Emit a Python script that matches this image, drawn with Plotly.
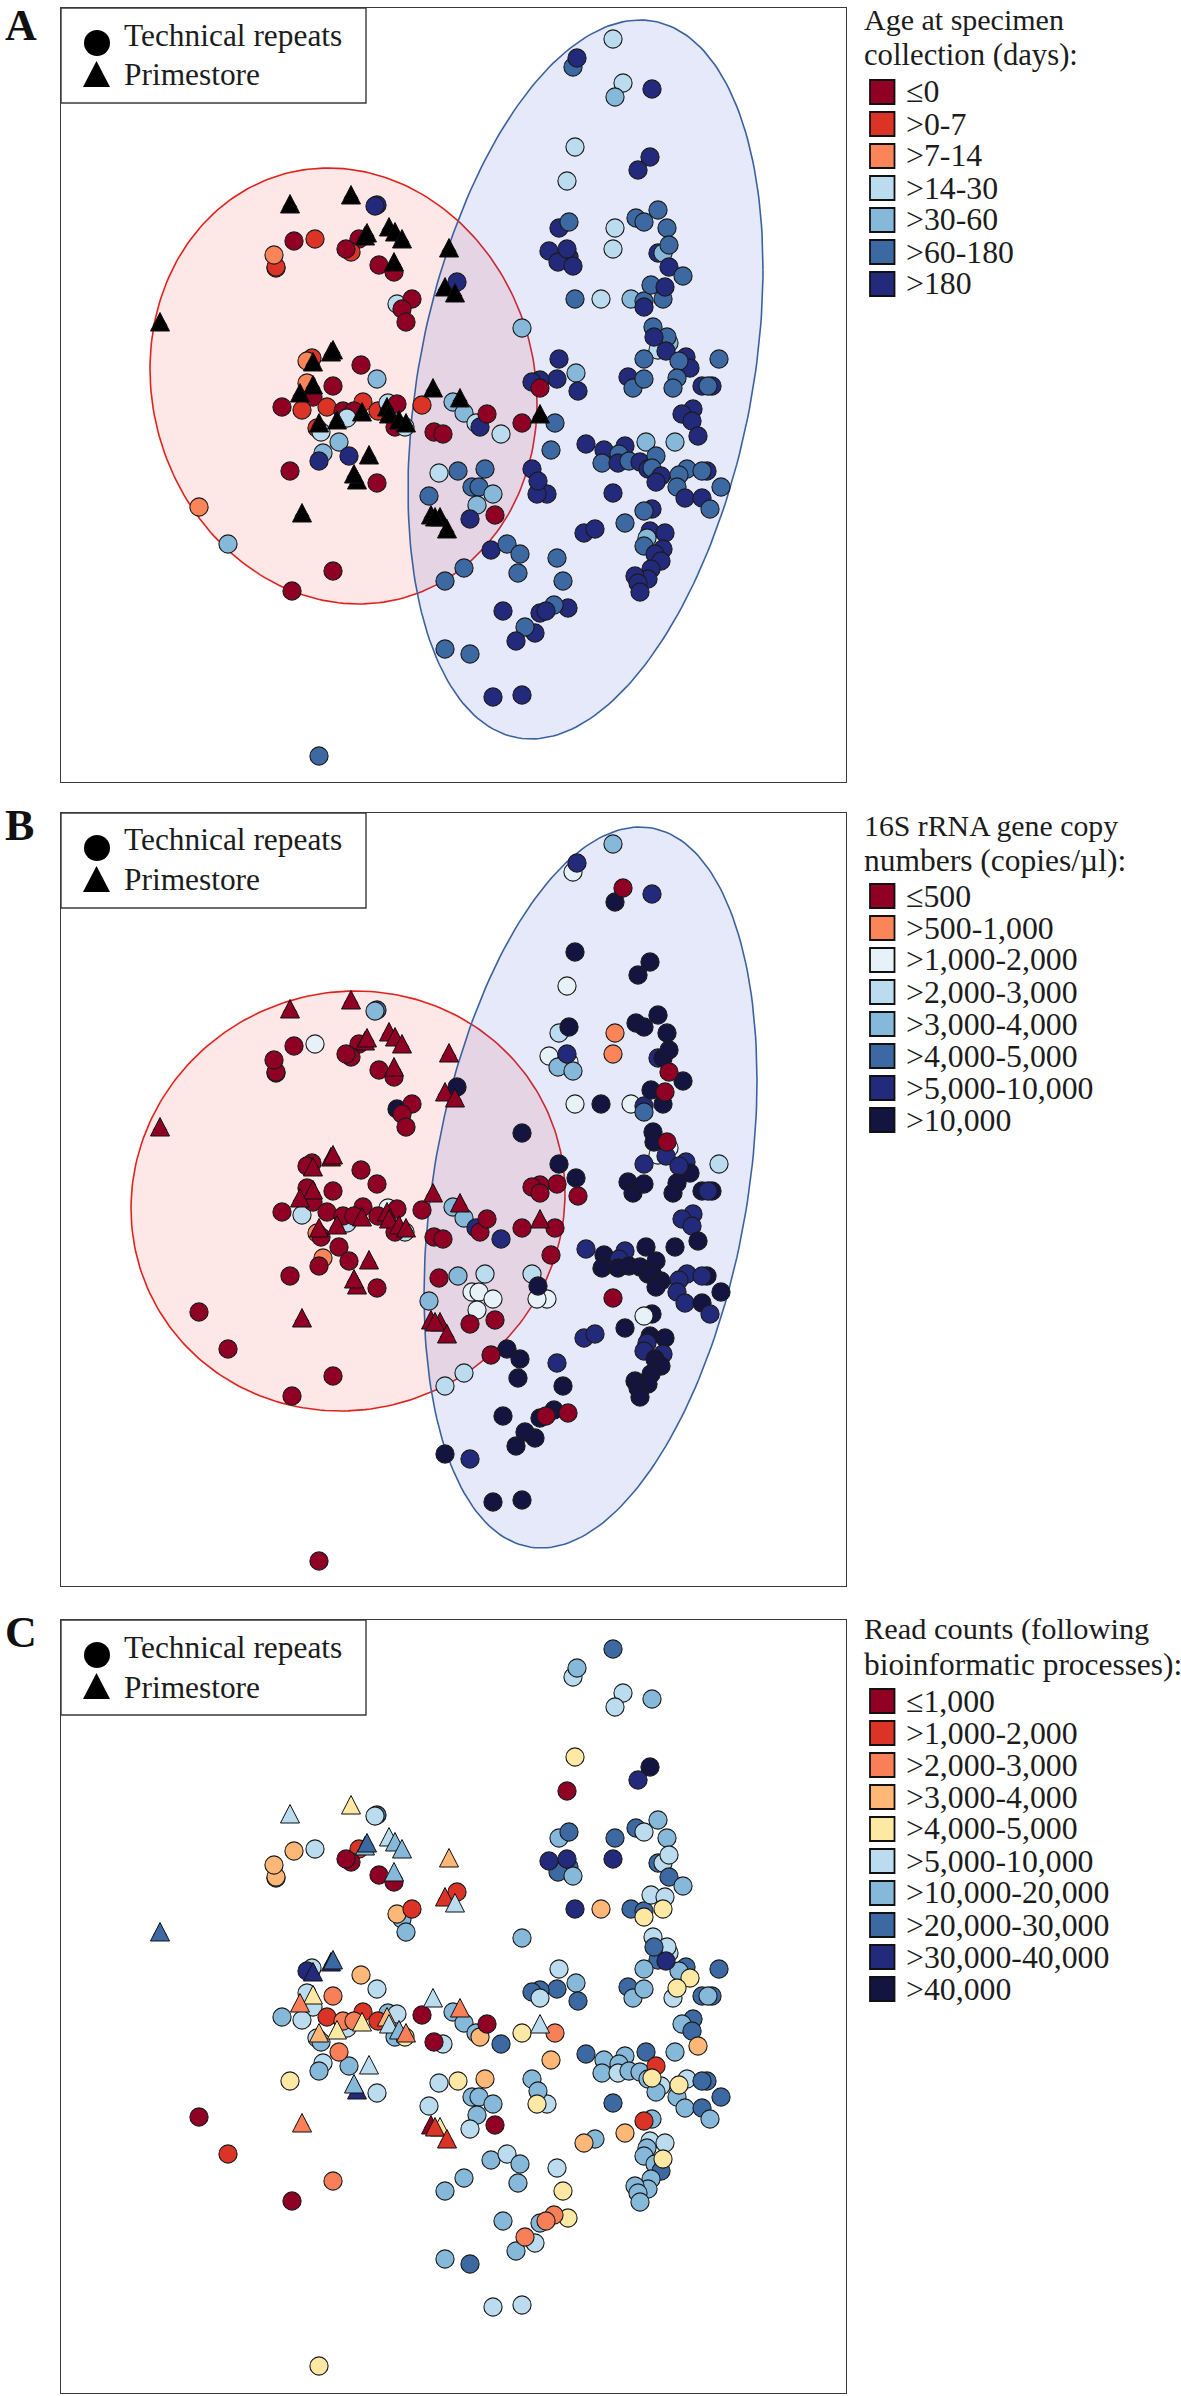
import numpy as np
import plotly.graph_objects as go

W, H = 1181, 2396
FONT = "Liberation Serif"
INK = "#1c1c1c"

# ---- colour classes and legends ------------------------------------------
age_title = ["Age at specimen", "collection (days):"]
age_title_sizes = [30, 30.7]
age_labels = ["≤0", ">0-7", ">7-14", ">14-30", ">30-60", ">60-180", ">180"]
age_colors = ["#8F0024", "#DC3327", "#FC8459", "#BBDCEE", "#86B8D9", "#3D69A3", "#242A7B"]

copy_title = ["16S rRNA gene copy", "numbers (copies/µl):"]
copy_title_sizes = [29.8, 31.5]
copy_labels = ["≤500", ">500-1,000", ">1,000-2,000", ">2,000-3,000", ">3,000-4,000",
               ">4,000-5,000", ">5,000-10,000", ">10,000"]
copy_colors = ["#8F0024", "#FC8459", "#E7F2F8", "#BBDCEE", "#86B8D9", "#3D69A3", "#242A7B", "#13143F"]

read_title = ["Read counts (following", "bioinformatic processes):"]
read_title_sizes = [30.4, 31.4]
read_labels = ["≤1,000", ">1,000-2,000", ">2,000-3,000", ">3,000-4,000", ">4,000-5,000",
               ">5,000-10,000", ">10,000-20,000", ">20,000-30,000", ">30,000-40,000", ">40,000"]
read_colors = ["#8F0024", "#DC3327", "#F87F58", "#FDB877", "#FEE9A4", "#BBDCEE", "#86B8D9",
               "#3D69A3", "#242A7B", "#13143F"]

type_labels = ["Technical repeats", "Primestore"]
panel_letters = ["A", "B", "C"]

# ---- ordination samples (same positions in all panels) -------------------
circle_x = [377,375,294,315,276,276,274,359,351,346,379,394,397,412,402,406,457,312,307,361,
            377,307,333,313,282,302,327,343,363,354,378,388,397,395,405,422,317,321,347,339,
            323,319,349,290,377,199,228,333,292,319,434,443,453,464,476,480,487,501,522,555,
            551,439,458,485,472,479,493,477,470,495,429,464,445,491,507,520,518,503,535,525,
            516,445,470,493,522,559,576,557,540,532,540,578,613,573,577,623,615,652,575,567,
            650,638,658,636,644,667,658,663,669,669,683,615,613,559,569,549,569,558,573,567,
            575,601,631,644,644,663,651,665,653,669,667,658,654,666,644,686,690,679,719,628,
            633,644,677,673,702,712,708,693,682,692,698,586,604,625,619,602,618,629,646,675,
            640,656,648,652,661,656,687,679,677,707,702,721,685,702,710,613,547,537,532,538,
            652,644,625,584,595,557,563,568,554,540,546,650,665,647,644,663,655,661,651,648,
            635,638,640,522]
circle_y = [205,206,241,239,268,267,255,239,252,249,265,272,304,299,309,322,282,358,361,365,
            379,383,386,397,407,410,407,411,402,411,411,403,404,427,427,405,428,432,418,442,
            453,461,456,471,483,507,544,571,591,756,432,434,402,413,423,427,414,434,423,423,
            450,473,471,469,487,487,494,505,519,515,496,568,581,550,544,554,573,611,633,627,
            641,649,654,697,695,359,373,379,380,382,388,391,39,67,58,83,97,89,147,181,
            157,170,210,218,222,228,253,253,245,267,276,228,249,228,222,251,257,262,266,249,
            299,299,299,301,307,299,285,287,327,343,337,350,337,351,359,357,368,361,359,377,
            388,379,378,388,386,386,386,409,414,421,436,444,450,446,454,463,463,461,442,442,
            462,456,469,468,476,482,469,475,487,471,471,487,498,498,509,493,494,494,469,481,
            509,511,523,533,529,558,581,608,605,613,611,531,533,538,546,549,554,561,569,579,
            576,583,592,328]
circle_age = [6,6,0,1,1,1,2,0,1,0,0,0,3,0,0,0,6,1,2,0,
              4,2,0,0,0,1,1,0,1,0,1,3,0,0,3,1,1,3,3,4,
              4,6,6,0,0,2,4,0,0,5,0,0,4,4,3,6,0,3,0,5,
              5,3,5,5,5,5,4,4,6,0,5,5,5,6,5,5,5,6,6,5,
              6,5,5,6,6,6,4,6,6,6,0,6,3,5,6,3,4,6,3,3,
              6,6,5,5,5,5,6,4,5,6,5,3,3,6,5,6,6,6,6,6,
              5,3,4,5,6,5,5,6,5,4,5,3,6,6,5,6,6,5,5,6,
              5,5,5,5,6,6,5,6,6,6,6,6,6,6,5,5,6,5,4,4,
              6,5,6,5,6,6,5,5,5,6,5,5,6,6,5,6,6,6,6,6,
              6,5,5,6,6,5,5,6,5,6,6,6,6,4,5,6,6,6,6,6,
              6,6,6,4]
circle_copies = [5,4,0,2,0,0,0,0,0,0,0,0,7,0,0,0,7,0,0,0,
                 0,0,0,0,0,3,0,0,0,0,0,2,0,0,3,0,1,0,3,0,
                 1,0,0,0,0,0,0,0,0,0,0,0,4,4,6,0,0,6,0,0,
                 0,0,4,3,2,2,2,2,0,0,4,3,3,0,7,7,7,7,7,7,
                 7,7,6,7,7,7,7,0,0,0,0,0,4,2,6,0,7,6,7,2,
                 7,7,7,7,7,7,6,7,7,0,7,1,1,3,7,2,2,4,4,6,
                 2,7,2,6,5,7,7,0,7,2,0,2,7,6,6,6,7,6,3,7,
                 7,7,7,7,7,7,6,6,6,6,7,6,7,6,6,7,7,7,7,7,
                 7,7,7,7,7,7,6,6,6,7,6,7,6,7,6,0,2,2,3,7,
                 7,2,7,6,6,6,7,0,7,7,0,7,7,6,6,6,7,7,7,7,
                 7,7,7,7]
circle_reads = [7,5,3,5,7,3,3,1,0,0,0,0,3,1,6,6,1,5,8,3,
                5,5,2,5,6,5,1,2,1,2,1,6,5,6,4,0,5,6,5,2,
                5,6,6,4,5,0,1,2,0,4,0,5,6,6,6,3,0,7,4,2,
                3,5,4,3,6,6,6,6,5,0,5,6,6,6,5,6,6,6,5,2,
                6,6,7,5,5,5,6,7,7,7,5,7,7,5,6,5,5,6,4,0,
                9,8,6,7,5,6,7,5,5,7,6,7,8,6,7,8,7,7,6,8,
                8,3,7,7,4,4,5,5,5,5,5,7,7,8,6,7,4,6,7,7,
                6,6,4,5,7,7,6,7,6,7,3,7,6,6,6,6,5,6,7,6,
                6,1,6,4,5,6,5,4,6,7,7,7,6,7,6,7,5,4,6,6,
                6,1,3,3,6,5,4,4,2,6,2,5,5,6,6,4,6,7,6,6,
                6,6,6,6]

tri_x = [290,351,365,367,389,395,402,394,449,445,455,160,331,333,313,313,300,362,387,389,
         399,406,319,337,369,357,354,302,460,433,540,431,440,435,447]
tri_y = [204,195,236,233,227,232,239,262,248,287,293,322,352,350,362,385,393,412,407,414,
         420,423,423,420,455,480,474,513,398,388,414,515,517,517,529]
tri_copies = [0]*len(tri_x)
tri_reads = [5,4,6,7,5,6,6,6,3,1,5,7,8,7,8,4,2,4,3,5,
             6,2,3,4,5,8,6,2,2,5,5,0,4,1,1]

# ---- 95 % ellipses: centre x, centre y, half-width, half-height, tilt correlation
ell_A_red = (343.5, 386, 193.5, 218, -0.078)
ell_A_blue = (585.5, 379.5, 177.5, 359.5, 0.307)
ell_B_red = (348, 396, 217, 210, 0.035)
ell_B_blue = (590.5, 382.5, 166.5, 360.5, 0.297)

# ---- page layout in pixels ------------------------------------------------
FRAME_L, FRAME_R = 61, 846
frames = [(8, 782, 0), (813, 1586, 805), (1620, 2393, 1610)]

def px(x): return x / W
def py(y): return 1 - y / H

def ellipse(p):
    cx, cy, a, b, rho = p
    d = np.arccos(rho)
    t = np.linspace(0, 2 * np.pi, 241)
    return cx + a * np.cos(t), cy - b * np.cos(t - d)

fig = go.Figure()
shapes, annotations = [], []

def text(x, y, s, size=30, **kw):
    annotations.append(dict(x=px(x), y=py(y), xref="paper", yref="paper", text=s, showarrow=False,
                            xanchor="left", yanchor="middle", align="left",
                            font=dict(family=FONT, size=size, color=INK), **kw))

n_circ = len(circle_x)
panels = [
    # stacking differs per panel: warm or dark classes were drawn over the mid blues
    dict(cls=circle_age, colors=age_colors, labels=age_labels, title=age_title,
         title_sizes=age_title_sizes, tri=None, ells=[ell_A_red, ell_A_blue],
         title_y=(20, 55), row0=92, letter_y=26, raised=set()),
    dict(cls=circle_copies, colors=copy_colors, labels=copy_labels, title=copy_title,
         title_sizes=copy_title_sizes, tri=tri_copies, ells=[ell_B_red, ell_B_blue],
         title_y=(826, 860), row0=896, letter_y=826, raised={0}),
    dict(cls=circle_reads, colors=read_colors, labels=read_labels, title=read_title,
         title_sizes=read_title_sizes, tri=tri_reads, ells=[],
         title_y=(1629, 1664), row0=1701, letter_y=1632, raised={0, 1, 2, 3, 4, 8, 9}),
]

for i, (p, (top, bottom, off)) in enumerate(zip(panels, frames)):
    n = "" if i == 0 else str(i + 1)
    xa, ya = f"x{n}", f"y{n}"
    fig.update_layout({
        f"xaxis{n}": dict(domain=[px(FRAME_L), px(FRAME_R)], range=[FRAME_L, FRAME_R], anchor=ya,
                          showticklabels=False, ticks="", showgrid=False, zeroline=False,
                          showline=True, mirror=True, linecolor="#3a3a3a", linewidth=1.4),
        f"yaxis{n}": dict(domain=[py(bottom), py(top)], range=[bottom - off, top - off], anchor=xa,
                          showticklabels=False, ticks="", showgrid=False, zeroline=False,
                          showline=True, mirror=True, linecolor="#3a3a3a", linewidth=1.4),
    })
    # ellipses
    for e, (lc, fc) in zip(p["ells"], [("#E0221C", "rgba(240,30,30,0.105)"), ("#3A629F", "rgba(70,90,210,0.135)")]):
        ex, ey = ellipse(e)
        fig.add_trace(go.Scatter(x=ex, y=ey, xaxis=xa, yaxis=ya, mode="lines", fill="toself",
                                 fillcolor=fc, line=dict(color=lc, width=1.6), hoverinfo="skip"))
    # circles
    order = sorted(range(n_circ), key=lambda k: p["cls"][k] in p["raised"])
    fig.add_trace(go.Scatter(x=[circle_x[k] for k in order], y=[circle_y[k] for k in order],
                             xaxis=xa, yaxis=ya, mode="markers", name=type_labels[0],
                             marker=dict(symbol="circle", size=18.2,
                                         color=[p["colors"][p["cls"][k]] for k in order],
                                         line=dict(color="#1a1a1a", width=1.1))))
    # triangles: a marker trace, refined by an equilateral pixel outline at the same data position
    tri_cols = ["#000000"] * len(tri_x) if p["tri"] is None else [p["colors"][c] for c in p["tri"]]
    fig.add_trace(go.Scatter(x=tri_x, y=tri_y, xaxis=xa, yaxis=ya, mode="markers",
                             name=type_labels[1],
                             marker=dict(symbol="triangle-up", size=13, color=tri_cols,
                                         line=dict(width=0))))
    for tx, ty, col in zip(tri_x, tri_y, tri_cols):
        shapes.append(dict(type="path", xref=xa, yref=ya, xsizemode="pixel", ysizemode="pixel",
                           xanchor=tx, yanchor=ty, path="M-9.5,-9 L9.5,-9 L0,9.5 Z",
                           fillcolor=col, line=dict(color="#111", width=1), layer="above"))
    # type legend box
    shapes.append(dict(type="rect", xref="paper", yref="paper", x0=px(FRAME_L), x1=px(366),
                       y0=py(top), y1=py(top + 95), fillcolor="white",
                       line=dict(color="#3a3a3a", width=1.4), layer="above"))
    shapes.append(dict(type="circle", xref="paper", yref="paper", x0=px(84), x1=px(110),
                       y0=py(top + 22), y1=py(top + 48), fillcolor="#000", line=dict(width=0), layer="above"))
    shapes.append(dict(type="path", xref="paper", yref="paper",
                       path=f"M{px(83)},{py(top+79)} L{px(110)},{py(top+79)} L{px(96.5)},{py(top+53)} Z",
                       fillcolor="#000", line=dict(width=0), layer="above"))
    text(122, top + 27, type_labels[0], size=31.4)
    text(122, top + 67, type_labels[1], size=31.4)
    # panel letter
    annotations.append(dict(x=px(3), y=py(p["letter_y"]), xref="paper", yref="paper",
                            text=f"<b>{panel_letters[i]}</b>",
                            showarrow=False, xanchor="left", yanchor="middle",
                            font=dict(family=FONT, size=44, color="#111")))
    # colour legend
    for ln, ty, sz in zip(p["title"], p["title_y"], p["title_sizes"]):
        text(862, ty, ln, size=sz)
    for j, (lab, col) in enumerate(zip(p["labels"], p["colors"])):
        yc = p["row0"] + 32 * j
        shapes.append(dict(type="rect", xref="paper", yref="paper", x0=px(870), x1=px(894.5),
                           y0=py(yc - 12), y1=py(yc + 12), fillcolor=col,
                           line=dict(color="#111", width=1.8), layer="above"))
        text(904, yc, lab, size=31.8)

fig.update_layout(width=W, height=H, autosize=False, margin=dict(l=0, r=0, t=0, b=0),
                  paper_bgcolor="white", plot_bgcolor="white", showlegend=False,
                  shapes=shapes, annotations=annotations)

assert len(circle_x) == len(circle_y) == len(circle_age) == len(circle_copies) == len(circle_reads)
assert len(tri_x) == len(tri_y) == len(tri_reads)

fig.write_html("out.html", config={"displayModeBar": False},
               post_script="document.body.style.margin='0';document.documentElement.style.overflow='hidden';")
